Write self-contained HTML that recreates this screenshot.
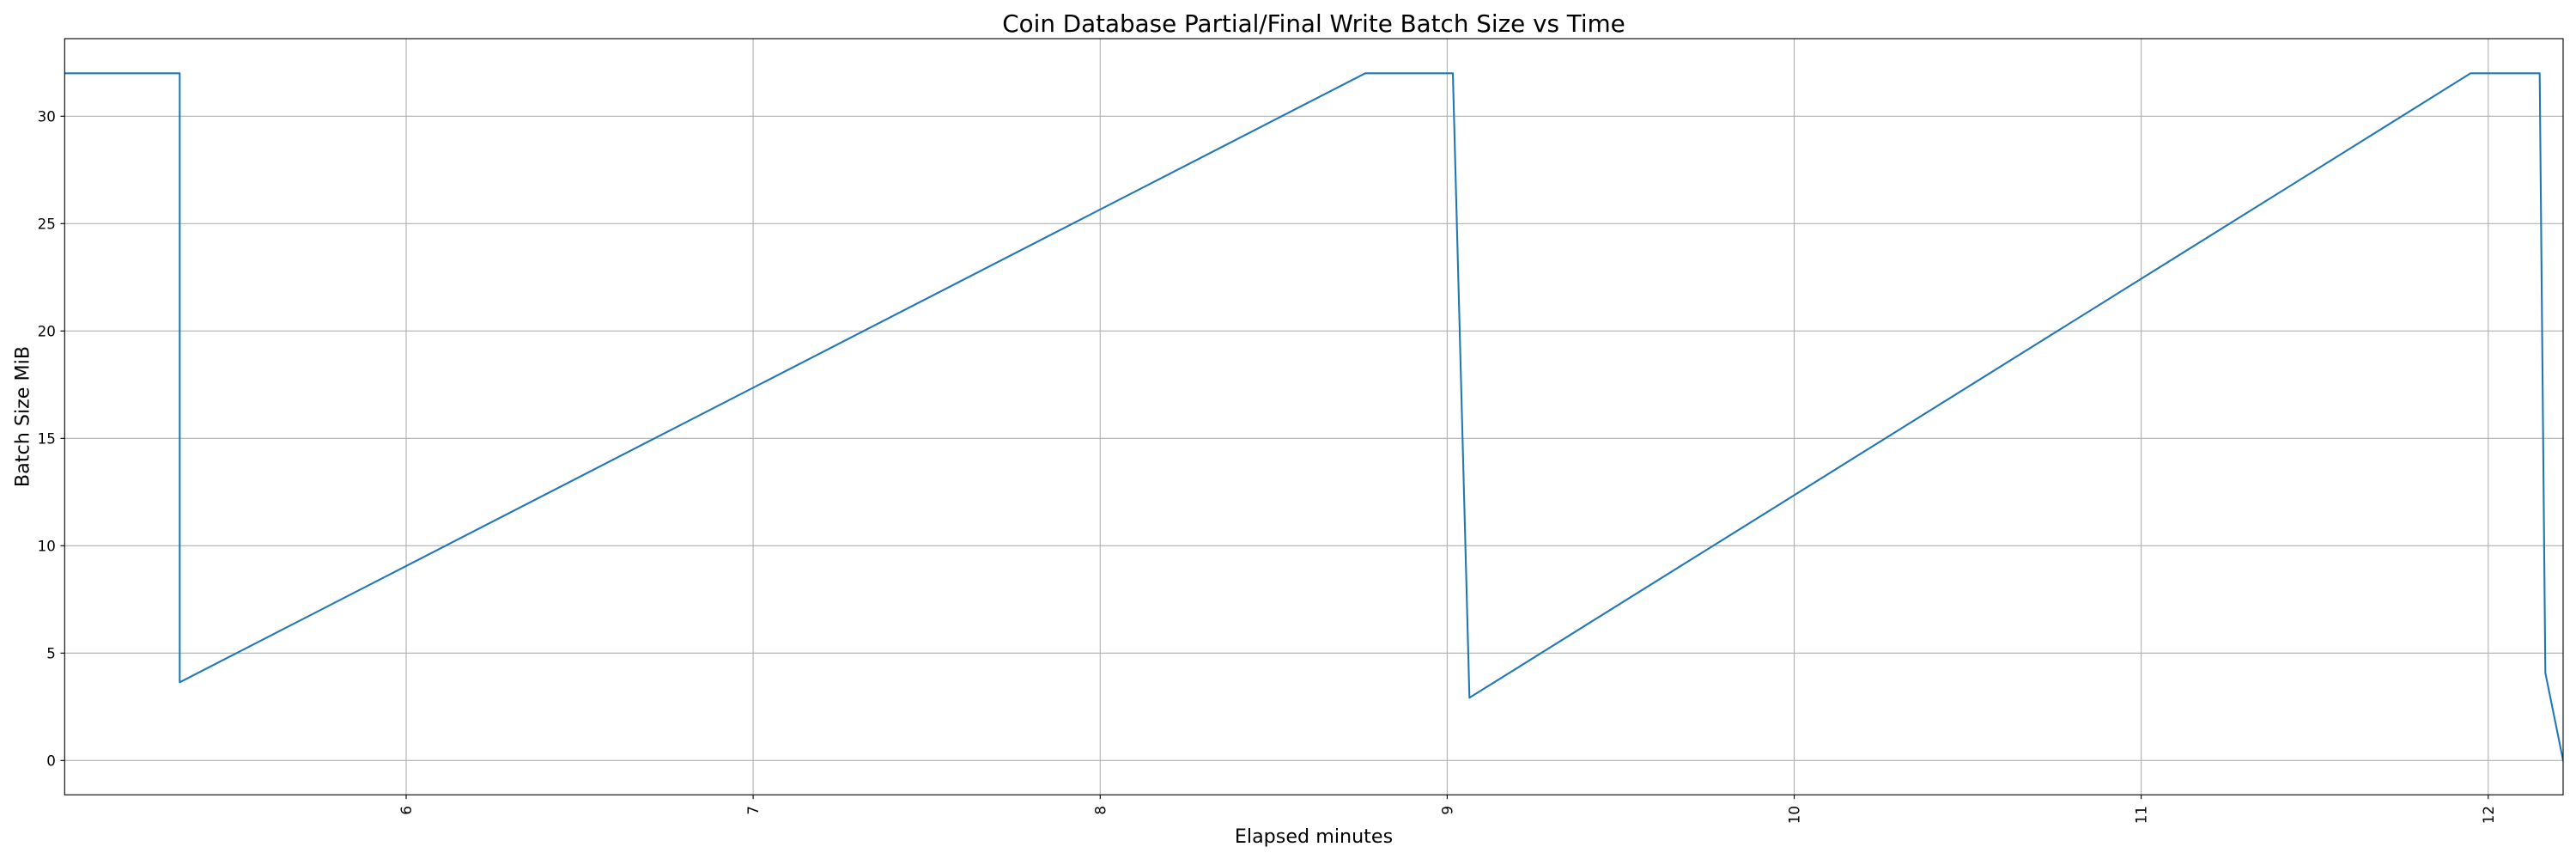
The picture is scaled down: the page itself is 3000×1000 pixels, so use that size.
<!DOCTYPE html>
<html>
<head>
<meta charset="utf-8">
<style>
  html, body { margin: 0; padding: 0; background: #ffffff; }
  body { width: 3000px; height: 1000px; overflow: hidden; }
  svg { display: block; }
  text { font-family: "DejaVu Sans", "Liberation Sans", sans-serif; fill: #000; }
</style>
</head>
<body>
<svg width="3000" height="1000" viewBox="0 0 3000 1000" xmlns="http://www.w3.org/2000/svg">
  <defs>
    <clipPath id="ax">
      <rect x="75.3" y="45" width="2909.7" height="880.3"/>
    </clipPath>
  </defs>
  <rect x="0" y="0" width="3000" height="1000" fill="#ffffff"/>

  <!-- grid -->
  <g stroke="#b0b0b0" stroke-width="1.11" fill="none">
    <line x1="473.0" y1="45" x2="473.0" y2="925.3"/>
    <line x1="877.1" y1="45" x2="877.1" y2="925.3"/>
    <line x1="1281.3" y1="45" x2="1281.3" y2="925.3"/>
    <line x1="1685.4" y1="45" x2="1685.4" y2="925.3"/>
    <line x1="2089.5" y1="45" x2="2089.5" y2="925.3"/>
    <line x1="2493.6" y1="45" x2="2493.6" y2="925.3"/>
    <line x1="2897.8" y1="45" x2="2897.8" y2="925.3"/>

    <line x1="75.3" y1="885.3" x2="2985" y2="885.3"/>
    <line x1="75.3" y1="760.3" x2="2985" y2="760.3"/>
    <line x1="75.3" y1="635.3" x2="2985" y2="635.3"/>
    <line x1="75.3" y1="510.3" x2="2985" y2="510.3"/>
    <line x1="75.3" y1="385.3" x2="2985" y2="385.3"/>
    <line x1="75.3" y1="260.3" x2="2985" y2="260.3"/>
    <line x1="75.3" y1="135.3" x2="2985" y2="135.3"/>
  </g>

  <!-- data line -->
  <polyline clip-path="url(#ax)" fill="none" stroke="#1f77b4" stroke-width="2.08" stroke-linejoin="round" stroke-linecap="square"
    points="75.3,85.3 209.3,85.3 209.3,794.3 1590,85.3 1692,85.3 1711.3,812.3 2877.3,85.3 2957.7,85.3 2964.3,783.3 2985,885.3"/>

  <!-- spines -->
  <rect x="75.3" y="45" width="2909.7" height="880.3" fill="none" stroke="#000" stroke-width="1.11"/>

  <!-- y ticks -->
  <g stroke="#000" stroke-width="1.11">
    <line x1="70.4" y1="885.3" x2="75.3" y2="885.3"/>
    <line x1="70.4" y1="760.3" x2="75.3" y2="760.3"/>
    <line x1="70.4" y1="635.3" x2="75.3" y2="635.3"/>
    <line x1="70.4" y1="510.3" x2="75.3" y2="510.3"/>
    <line x1="70.4" y1="385.3" x2="75.3" y2="385.3"/>
    <line x1="70.4" y1="260.3" x2="75.3" y2="260.3"/>
    <line x1="70.4" y1="135.3" x2="75.3" y2="135.3"/>
  </g>
  <g font-size="16.67" text-anchor="end">
    <text x="64.8" y="891.4">0</text>
    <text x="64.8" y="766.4">5</text>
    <text x="64.8" y="641.4">10</text>
    <text x="64.8" y="516.4">15</text>
    <text x="64.8" y="391.4">20</text>
    <text x="64.8" y="266.4">25</text>
    <text x="64.8" y="141.4">30</text>
  </g>

  <!-- x ticks -->
  <g stroke="#000" stroke-width="1.11">
    <line x1="473.0" y1="925.3" x2="473.0" y2="930.2"/>
    <line x1="877.1" y1="925.3" x2="877.1" y2="930.2"/>
    <line x1="1281.3" y1="925.3" x2="1281.3" y2="930.2"/>
    <line x1="1685.4" y1="925.3" x2="1685.4" y2="930.2"/>
    <line x1="2089.5" y1="925.3" x2="2089.5" y2="930.2"/>
    <line x1="2493.6" y1="925.3" x2="2493.6" y2="930.2"/>
    <line x1="2897.8" y1="925.3" x2="2897.8" y2="930.2"/>
  </g>
  <g font-size="16.67" text-anchor="end">
    <text transform="translate(479.0,938) rotate(-90)">6</text>
    <text transform="translate(883.1,938) rotate(-90)">7</text>
    <text transform="translate(1287.3,938) rotate(-90)">8</text>
    <text transform="translate(1691.4,938) rotate(-90)">9</text>
    <text transform="translate(2095.5,938) rotate(-90)">10</text>
    <text transform="translate(2499.6,938) rotate(-90)">11</text>
    <text transform="translate(2903.8,938) rotate(-90)">12</text>
  </g>

  <!-- title -->
  <text x="1530" y="37" font-size="27.78" text-anchor="middle">Coin Database Partial/Final Write Batch Size vs Time</text>

  <!-- axis labels -->
  <text x="1530" y="981" font-size="22.22" text-anchor="middle">Elapsed minutes</text>
  <text transform="translate(33.5,485) rotate(-90)" font-size="22.22" text-anchor="middle">Batch Size MiB</text>
</svg>
</body>
</html>
